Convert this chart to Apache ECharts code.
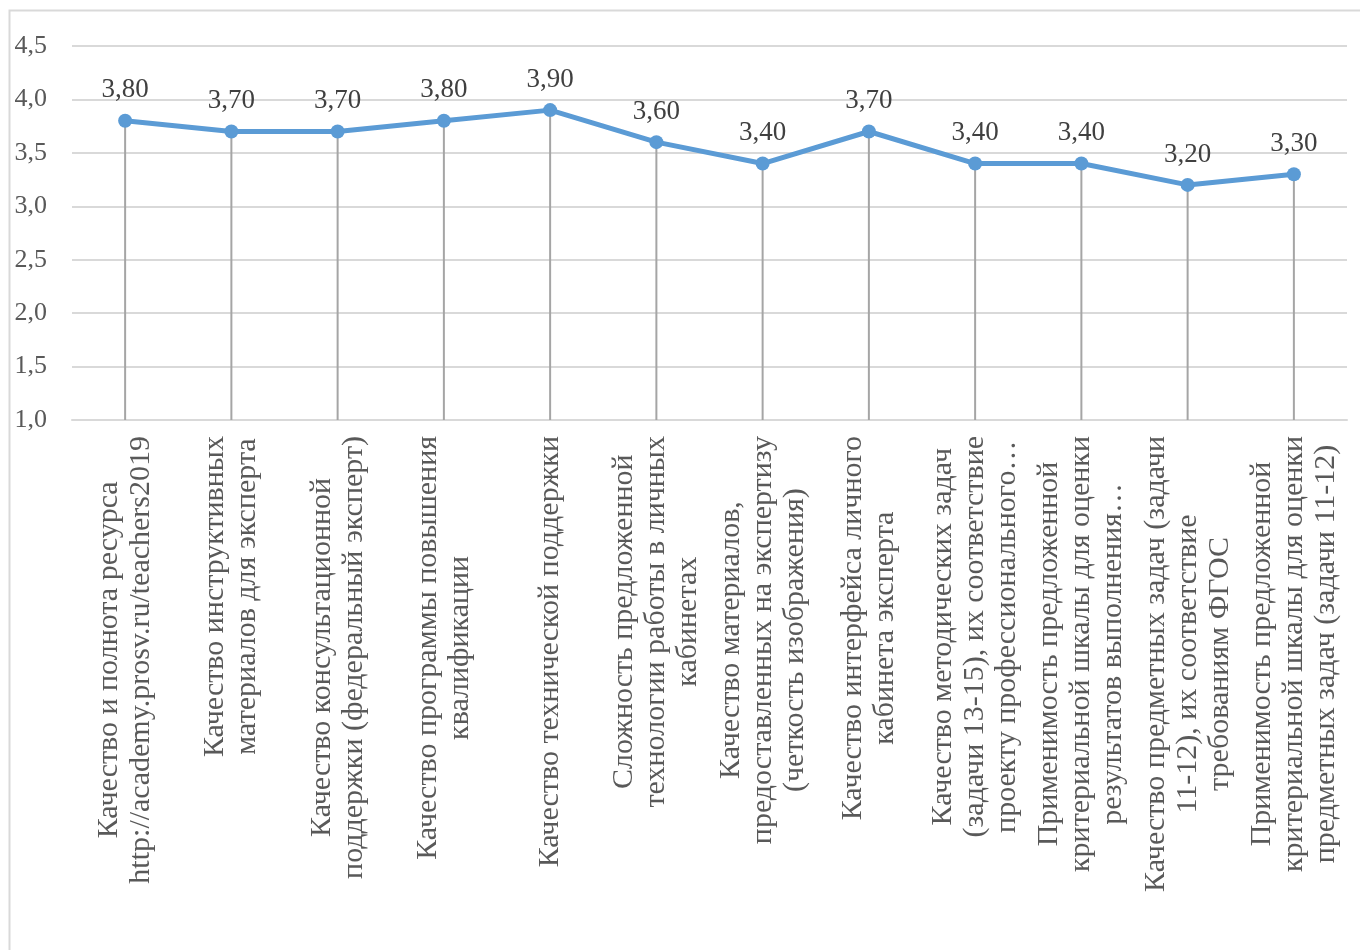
<!DOCTYPE html>
<html>
<head>
<meta charset="utf-8">
<script src="https://cdn.jsdelivr.net/npm/echarts@6/dist/echarts.min.js"></script>
<style>
  html, body { margin: 0; padding: 0; background: #ffffff; }
  #chart { width: 1360px; height: 950px; }
</style>
</head>
<body>
<div id="chart"></div>
<script>
// Survey criteria (each label broken into the lines it is shown with)
const categories = [
  'Качество и полнота ресурса\nhttp://academy.prosv.ru/teachers2019',
  'Качество инструктивных\nматериалов для эксперта',
  'Качество консультационной\nподдержки (федеральный эксперт)',
  'Качество программы повышения\nквалификации',
  'Качество технической поддержки',
  'Сложность предложенной\nтехнологии работы в личных\nкабинетах',
  'Качество материалов,\nпредоставленных на экспертизу\n(четкость изображения)',
  'Качество интерфейса личного\nкабинета эксперта',
  'Качество методических задач\n(задачи 13-15), их соответствие\nпроекту профессионального…',
  'Применимость предложенной\nкритериальной шкалы для оценки\nрезультатов выполнения…',
  'Качество предметных задач (задачи\n11-12), их соответствие\nтребованиям ФГОС',
  'Применимость предложенной\nкритериальной шкалы для оценки\nпредметных задач (задачи 11-12)'
];

// Average score per criterion
const scores = [3.80, 3.70, 3.70, 3.80, 3.90, 3.60, 3.40, 3.70, 3.40, 3.40, 3.20, 3.30];

// Value axis range
const yMin = 1.0;
const yMax = 4.5;
const yStep = 0.5;

const SERIF = '"Liberation Serif", "Times New Roman", serif';
const toComma = (v, d) => v.toFixed(d).replace('.', ',');

const chart = echarts.init(document.getElementById('chart'), null, { renderer: 'canvas' });

chart.setOption({
  backgroundColor: '#ffffff',
  animation: false,
  graphic: [{
    type: 'rect',
    shape: { x: 9.5, y: 10.5, width: 1400, height: 1000 },
    style: { fill: 'none', stroke: '#d9d9d9', lineWidth: 2 },
    silent: true
  }],
  grid: { left: 72, right: 13, top: 46, bottom: 530 },
  xAxis: {
    type: 'category',
    data: categories,
    boundaryGap: true,
    axisLine: { show: true, lineStyle: { color: '#d9d9d9', width: 2 } },
    axisTick: { show: false },
    axisLabel: {
      interval: 0,
      rotate: 90,
      margin: 16,
      color: '#595959',
      fontFamily: SERIF,
      fontSize: 30,
      lineHeight: 32,
      formatter: (val) => val.split('\n').map(l => '{c|' + l + '}').join('\n'),
      rich: {
        c: { align: 'center', fontFamily: SERIF, fontSize: 30, lineHeight: 32, color: '#595959' }
      }
    }
  },
  yAxis: {
    type: 'value',
    min: yMin,
    max: yMax,
    interval: yStep,
    axisLine: { show: false },
    axisTick: { show: false },
    splitLine: { lineStyle: { color: '#d9d9d9', width: 2 } },
    axisLabel: {
      margin: 25,
      color: '#595959',
      fontFamily: SERIF,
      fontSize: 26,
      formatter: (v) => toComma(v, 1)
    }
  },
  series: [
    {
      // thin drop lines from each point down to the category axis
      type: 'bar',
      data: scores,
      barWidth: 2,
      silent: true,
      itemStyle: { color: '#a5a5a5' },
      z: 1
    },
    {
      type: 'line',
      data: scores,
      symbol: 'circle',
      symbolSize: 14,
      lineStyle: { color: '#5b9bd5', width: 5 },
      itemStyle: { color: '#5b9bd5' },
      z: 3,
      label: {
        show: true,
        position: 'top',
        distance: 10,
        color: '#404040',
        fontFamily: SERIF,
        fontSize: 27,
        formatter: (p) => toComma(p.value, 2)
      }
    }
  ]
});
</script>
</body>
</html>
